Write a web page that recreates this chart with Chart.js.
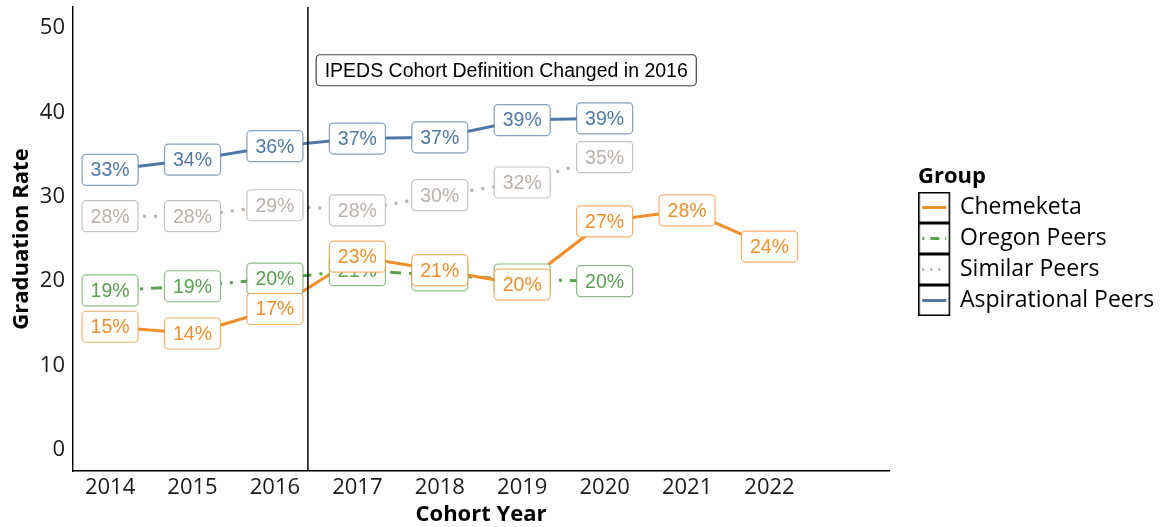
<!DOCTYPE html>
<html><head><meta charset="utf-8">
<script src="https://cdn.jsdelivr.net/npm/chart.js@4.4.1/dist/chart.umd.min.js"></script>
<style>html,body{margin:0;padding:0;background:#fff}#wrap{width:1162px;height:527px;position:relative}</style>
</head><body><div id="wrap"><canvas id="c"></canvas></div>
<script>
// ---- data ----
const years = [2014, 2015, 2016, 2017, 2018, 2019, 2020, 2021, 2022];
const chemeketa = [14.6, 13.8, 16.7, 22.9, 21.3, 19.6, 27.1, 28.4, 24.1];
const oregonPeers = [18.9, 19.4, 20.3, 21.3, 20.7, 20.2, 20.0];
const similarPeers = [27.7, 27.7, 29.0, 28.4, 30.2, 31.7, 34.7];
const aspirationalPeers = [33.2, 34.4, 36.0, 36.9, 37.05, 39.1, 39.3];
const seriesNames = ['Chemeketa', 'Oregon Peers', 'Similar Peers', 'Aspirational Peers'];
const yTickValues = [0, 10, 20, 30, 40, 50];
const xTickValues = [2014, 2015, 2016, 2017, 2018, 2019, 2020, 2021, 2022];
const cohortChangeX = 2016.4;
const annotationText = 'IPEDS Cohort Definition Changed in 2016';
const annotationX = 2016.5;
const annotationY = 45;

// ---- styles ----
const seriesData = [chemeketa, oregonPeers, similarPeers, aspirationalPeers];
const colors = ['#F28E2B', '#59A14F', '#BAB0AC', '#4E79A7'];
const borderAlpha = ['rgba(242,142,43,0.7)', 'rgba(89,161,79,0.7)', 'rgba(186,176,172,0.8)', 'rgba(78,121,167,0.7)'];
const dashes = [[], [3, 8, 11, 8], [3, 8], []];
const keyDashes = [[], [2, 6, 9, 6], [2, 6], []];
const LEGEND_WIDTH = 244;

function keyCanvas(color, dash) {
  const c = document.createElement('canvas');
  c.width = 38; c.height = 31;
  const g = c.getContext('2d');
  g.fillStyle = '#fff'; g.fillRect(1, 1, 30, 29);
  g.strokeStyle = '#000'; g.lineWidth = 1.5; g.strokeRect(0.75, 0.75, 30.5, 29.5);
  g.strokeStyle = color; g.lineWidth = 3; g.setLineDash(dash);
  g.beginPath(); g.moveTo(4, 15.5); g.lineTo(28, 15.5); g.stroke();
  return c;
}

function rr(ctx, x, y, w, h, r) {
  ctx.beginPath();
  ctx.moveTo(x + r, y);
  ctx.lineTo(x + w - r, y); ctx.arcTo(x + w, y, x + w, y + r, r);
  ctx.lineTo(x + w, y + h - r); ctx.arcTo(x + w, y + h, x + w - r, y + h, r);
  ctx.lineTo(x + r, y + h); ctx.arcTo(x, y + h, x, y + h - r, r);
  ctx.lineTo(x, y + r); ctx.arcTo(x, y, x + r, y, r);
  ctx.closePath();
}

function drawLabel(ctx, x, y, text, textColor, border, align) {
  const padX = 8.5, h = 31;
  const tw = ctx.measureText(text).width;
  const w = tw + 2 * padX;
  const left = align === 'left' ? x : x - w / 2;
  rr(ctx, left, y - h / 2, w, h, 4);
  ctx.fillStyle = '#fff'; ctx.fill();
  ctx.lineWidth = 1.2; ctx.strokeStyle = border; ctx.stroke();
  ctx.fillStyle = textColor;
  ctx.textAlign = 'left'; ctx.textBaseline = 'middle';
  ctx.fillText(text, left + padX, y + 1);
}

const overlayPlugin = {
  id: 'overlay',
  afterInit(chart) {
    const lg = chart.legend;
    if (lg && !lg._fixedFit) {
      const f = lg.fit.bind(lg);
      lg.fit = function () { f(); this.width = LEGEND_WIDTH; };
      lg._fixedFit = true;
    }
  },
  afterDatasetsDraw(chart) {
    const ctx = chart.ctx, xs = chart.scales.x, ys = chart.scales.y, ca = chart.chartArea;
    ctx.save();
    const vx = xs.getPixelForValue(cohortChangeX);
    ctx.strokeStyle = '#000'; ctx.lineWidth = 1.5;
    ctx.beginPath(); ctx.moveTo(vx, ca.top); ctx.lineTo(vx, ca.bottom); ctx.stroke();
    ctx.font = '19.5px "Liberation Sans", Arial, sans-serif';
    for (const di of [2, 3, 1, 0]) {
      const meta = chart.getDatasetMeta(di);
      meta.data.forEach((pt, j) => {
        drawLabel(ctx, pt.x, pt.y, Math.round(seriesData[di][j]) + '%', colors[di], borderAlpha[di], 'center');
      });
    }
    drawLabel(ctx, xs.getPixelForValue(annotationX), ys.getPixelForValue(annotationY), annotationText, '#000', '#444', 'left');
    ctx.restore();
  }
};

const datasets = seriesNames.map((name, i) => ({
  label: name,
  data: seriesData[i].map((v, j) => ({ x: years[j], y: v })),
  borderColor: colors[i],
  backgroundColor: colors[i],
  borderWidth: 3,
  borderDash: dashes[i],
  borderCapStyle: 'butt',
  pointRadius: 0,
  pointHoverRadius: 0,
  pointStyle: keyCanvas(colors[i], keyDashes[i]),
  tension: 0,
  fill: false
}));

const tickFont = { family: 'Open Sans', size: 22 };
const titleFont = { family: 'Open Sans', size: 22, weight: 'bold', lineHeight: 1.1 };

new Chart(document.getElementById('c'), {
  type: 'line',
  data: { datasets },
  plugins: [overlayPlugin],
  options: {
    responsive: true,
    maintainAspectRatio: false,
    animation: false,
    events: [],
    layout: { padding: { top: 7, right: 0, bottom: 0, left: 0 } },
    scales: {
      x: {
        type: 'linear', min: 2013.55, max: 2023.45,
        afterBuildTicks: s => { s.ticks = xTickValues.map(v => ({ value: v })); },
        afterFit: s => { s.height = 56; s.paddingLeft = 0; s.paddingRight = 0; },
        grid: { display: false, drawTicks: false },
        border: { display: true, color: '#000', width: 1.4 },
        ticks: { padding: 4, color: '#1a1a1a', font: tickFont, autoSkip: false, maxRotation: 0, callback: v => String(v) },
        title: { display: true, text: 'Cohort Year', color: '#000', font: titleFont, padding: { top: 0, bottom: 0 } }
      },
      y: {
        type: 'linear', min: -2.5, max: 52.5,
        afterBuildTicks: s => { s.ticks = yTickValues.map(v => ({ value: v })); },
        afterFit: s => { s.width = 73; s.paddingTop = 0; s.paddingBottom = 0; },
        grid: { display: false, drawTicks: false },
        border: { display: true, color: '#000', width: 1.4 },
        ticks: { padding: 8, color: '#1a1a1a', font: tickFont, callback: v => String(v) },
        title: { display: true, text: 'Graduation Rate', color: '#000', font: { family: 'Open Sans', size: 22, weight: 'bold' }, padding: { top: 9, bottom: 0 } }
      },
      gap: {
        type: 'linear', position: 'right', display: true,
        grid: { display: false, drawTicks: false },
        border: { display: false },
        ticks: { display: false },
        afterFit: s => { s.width = 29; s.paddingTop = 0; s.paddingBottom = 0; }
      }
    },
    plugins: {
      tooltip: { enabled: false },
      legend: {
        position: 'right', align: 'start',
        title: { display: true, text: 'Group', position: 'start', color: '#000',
                 font: { family: 'Open Sans', size: 22, weight: 'bold', lineHeight: 1 }, padding: { top: 159, bottom: 0 } },
        labels: { usePointStyle: true, pointStyleWidth: 22.5, padding: 8, color: '#000', font: { family: 'Open Sans', size: 23 } }
      }
    }
  }
});
</script></body></html>
